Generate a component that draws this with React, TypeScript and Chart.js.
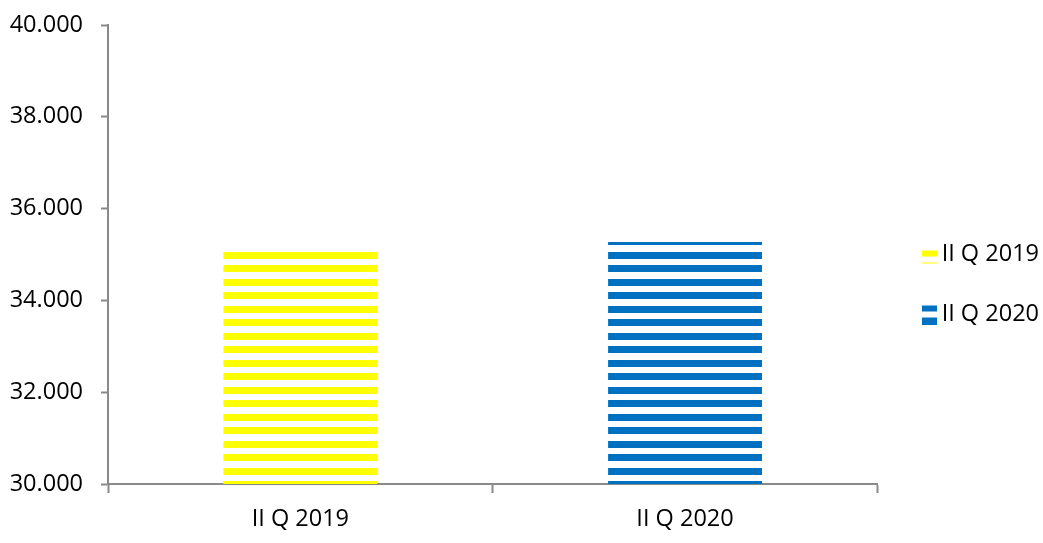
import React, { useEffect, useRef } from "react";
import { Chart, registerables } from "chart.js";

Chart.register(...registerables);

const categories = ["II Q 2019", "II Q 2020"];
const values = [35120, 35275];
const barColors = ["#FFFF00", "#0070C0"];
const yMin = 30000;
const yMax = 40000;
const yStep = 2000;

const FONT = "'Open Sans', sans-serif";
const AXIS = "#8a8a8a";

function stripePattern(color: string): CanvasPattern | string {
  const c = document.createElement("canvas");
  c.width = 8;
  c.height = 27;
  const ctx = c.getContext("2d");
  if (!ctx) return color;
  ctx.fillStyle = color;
  ctx.fillRect(0, 9, 8, 7);
  ctx.fillRect(0, 22, 8, 5);
  ctx.fillRect(0, 0, 8, 2);
  return ctx.createPattern(c, "repeat") || color;
}

function legendGlyph(color: string, rows: number[][]): HTMLCanvasElement {
  const c = document.createElement("canvas");
  c.width = 30;
  c.height = 20;
  const ctx = c.getContext("2d");
  if (ctx) {
    ctx.fillStyle = color;
    rows.forEach(([y, h]) => ctx.fillRect(15, y, 15, h));
  }
  return c;
}

function fmt(v: number): string {
  return Math.round(v)
    .toString()
    .replace(/\B(?=(\d{3})+(?!\d))/g, ".");
}

export default function App() {
  const ref = useRef<HTMLCanvasElement | null>(null);

  useEffect(() => {
    if (!ref.current) return;
    const patterns = barColors.map((c) => stripePattern(c));
    const glyphs = [
      legendGlyph(barColors[0], [[6, 6], [18, 1]]),
      legendGlyph(barColors[1], [[1, 6], [13, 7]]),
    ];
    const chart = new Chart(ref.current, {
      type: "bar",
      data: {
        labels: categories,
        datasets: [
          {
            label: "values",
            data: values,
            backgroundColor: patterns as any,
            borderWidth: 0,
            barPercentage: 0.4,
            categoryPercentage: 1.0,
          },
        ],
      },
      options: {
        responsive: false,
        animation: false,
        layout: { padding: { left: 8, top: 25, right: -6, bottom: 10 } },
        plugins: {
          tooltip: { enabled: false },
          legend: {
            position: "right",
            title: {
              display: true,
              text: " ",
              font: { size: 10, lineHeight: 1 },
              padding: { top: 1, bottom: 0 },
            },
            labels: {
              usePointStyle: true,
              pointStyleWidth: 16,
              padding: 36.5,
              color: "#000000",
              font: { family: FONT, size: 23.5 },
              generateLabels: () =>
                categories.map((cat, i) => ({
                  text: cat,
                  pointStyle: glyphs[i] as any,
                  fillStyle: barColors[i],
                  strokeStyle: barColors[i],
                  lineWidth: 0,
                  hidden: false,
                  index: i,
                  datasetIndex: 0,
                  fontColor: "#000000",
                })),
            },
          },
        },
        scales: {
          x: {
            afterFit: (scale: any) => {
              scale.height = 49;
            },
            grid: {
              drawOnChartArea: false,
              drawTicks: true,
              tickLength: 9,
              tickColor: AXIS,
              tickWidth: 2,
              offset: true,
            },
            border: { color: AXIS, width: 2 },
            ticks: {
              color: "#000000",
              font: { family: FONT, size: 23.5 },
              padding: 12,
            },
          },
          y: {
            min: yMin,
            max: yMax,
            afterFit: (scale: any) => {
              scale.width = 100;
              scale.paddingTop = 14;
            },
            grid: {
              drawOnChartArea: false,
              drawTicks: true,
              tickLength: 7,
              tickColor: AXIS,
              tickWidth: 2,
            },
            border: { color: AXIS, width: 2 },
            ticks: {
              stepSize: yStep,
              color: "#000000",
              font: { family: FONT, size: 23.5 },
              padding: 18,
              callback: (v: any) => fmt(Number(v)),
            },
          },
        },
      },
    });
    return () => chart.destroy();
  }, []);

  return (
    <div style={{ position: "absolute", left: 0, top: 0, width: 1043, height: 543, background: "#ffffff" }}>
      <canvas ref={ref} width={1043} height={543} />
    </div>
  );
}
